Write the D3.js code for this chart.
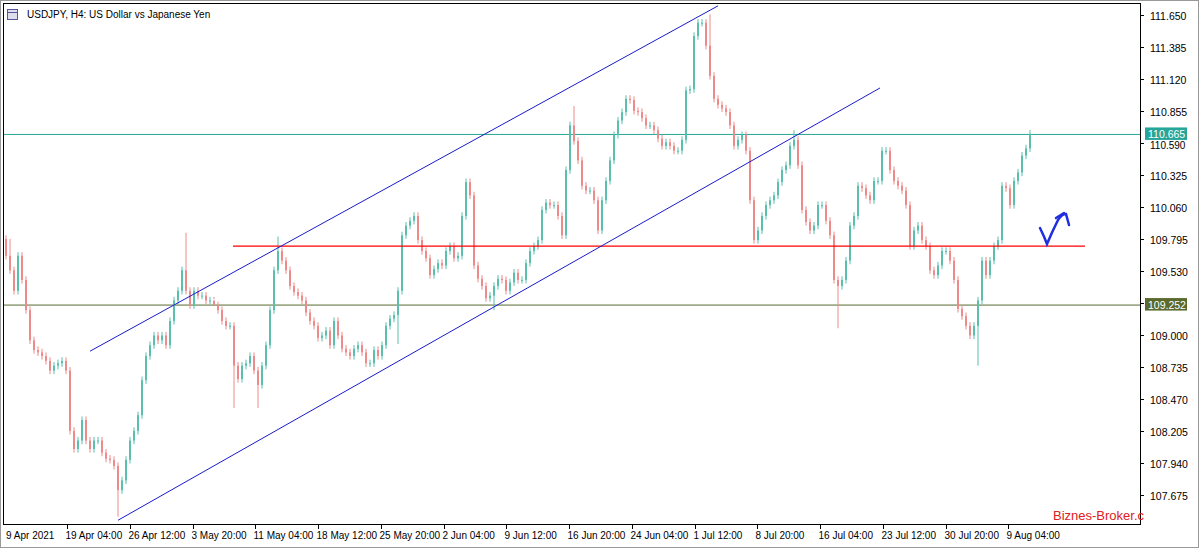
<!DOCTYPE html>
<html><head><meta charset="utf-8">
<script src="https://cdn.jsdelivr.net/npm/d3@7"></script>
<style>body{margin:0;background:#fff}svg{font-family:"Liberation Sans",Arial,sans-serif}</style>
</head><body><svg id="c" width="1200" height="548"></svg>
<script>
const closes=[109.66,109.54,109.37,109.66,109.46,109.21,108.96,108.88,108.86,108.83,108.79,108.71,108.75,108.77,108.79,108.71,108.21,108.06,108.13,108.30,108.13,108.06,108.13,108.13,108.03,107.98,107.97,107.92,107.72,107.80,107.97,108.13,108.21,108.34,108.63,108.83,108.92,109.00,108.96,109.00,108.92,109.12,109.29,109.37,109.54,109.37,109.25,109.37,109.33,109.33,109.29,109.29,109.25,109.21,109.12,109.08,109.08,108.75,108.64,108.75,108.77,108.83,108.71,108.59,108.75,108.92,109.21,109.54,109.70,109.62,109.54,109.41,109.36,109.33,109.29,109.19,109.12,109.08,108.98,109.00,109.04,108.92,109.12,109.00,108.89,108.86,108.83,108.89,108.92,108.86,108.77,108.77,108.88,108.83,108.92,109.08,109.14,109.17,109.37,109.83,109.91,109.95,109.99,109.79,109.70,109.64,109.50,109.55,109.60,109.58,109.70,109.74,109.64,109.66,109.99,110.27,110.16,109.58,109.47,109.41,109.31,109.33,109.41,109.47,109.46,109.37,109.44,109.52,109.46,109.46,109.60,109.70,109.74,109.79,110.04,110.10,110.08,110.08,109.99,109.83,110.37,110.74,110.61,110.45,110.24,110.20,110.20,110.12,109.87,110.12,110.28,110.45,110.66,110.78,110.85,110.96,110.95,110.86,110.85,110.80,110.74,110.74,110.70,110.63,110.57,110.60,110.57,110.53,110.53,110.62,111.03,111.04,111.48,111.59,111.59,111.40,111.15,110.96,110.91,110.88,110.85,110.74,110.57,110.62,110.66,110.53,110.12,109.79,109.87,109.99,110.08,110.12,110.16,110.27,110.37,110.41,110.57,110.62,110.41,110.04,109.94,109.87,109.91,110.08,110.08,109.95,109.83,109.46,109.41,109.46,109.62,109.91,109.99,110.24,110.22,110.16,110.12,110.28,110.28,110.53,110.53,110.37,110.28,110.24,110.20,110.08,109.74,109.87,109.91,109.79,109.74,109.54,109.50,109.58,109.70,109.70,109.62,109.46,109.22,109.16,109.08,109.00,109.08,109.29,109.62,109.50,109.62,109.74,109.79,110.24,110.22,110.08,110.28,110.35,110.49,110.55,110.67];
const firstOpen=109.80;
const spikeLows=[[28,107.50],[57,108.40],[63,108.40],[98,108.93],[122,109.21],[208,109.06],[243,108.75],[52,109.30]];
const spikeHighs=[[1,109.80],[45,109.85],[68,109.82],[142,110.90],[176,111.66],[197,110.70]];
const yTicks=["111.650","111.385","111.120","110.855","110.590","110.325","110.060","109.795","109.530","109.265","109.000","108.735","108.470","108.205","107.940","107.675"];
const xTickIdx=[15.25,30.94,46.63,62.31,78,93.69,109.38,125.06,140.75,156.44,172.13,187.81,203.5,219.19,234.88,250.56];
const xTickLabels=["19 Apr 04:00","26 Apr 12:00","3 May 20:00","11 May 04:00","18 May 12:00","25 May 20:00","2 Jun 04:00","9 Jun 12:00","16 Jun 20:00","24 Jun 04:00","1 Jul 12:00","8 Jul 20:00","16 Jul 04:00","23 Jul 12:00","30 Jul 20:00","9 Aug 04:00"];
const channelUpper=[[21,108.87],[178,111.73]];
const channelLower=[[28,107.47],[218.5,111.05]];
const supportRed={from:56.75,to:269.75,price:109.745};
const levelTeal=110.665, levelOlive=109.252;

const svg=d3.select("#c");
const x=d3.scaleLinear().domain([0,256]).range([6,1030]);
const y=d3.scaleLinear().domain([109,108.735]).range([335.5,367.5]);
const W=1140,B=524;
svg.append("rect").attr("x",0.5).attr("y",0.5).attr("width",1198).attr("height",547).attr("fill","#fff").attr("stroke","#999");
svg.append("clipPath").attr("id","cp").append("rect").attr("x",4).attr("y",4).attr("width",W-4).attr("height",B-4);
const g=svg.append("g").attr("clip-path","url(#cp)");
g.append("line").attr("x1",0).attr("x2",W).attr("y1",y(levelTeal)).attr("y2",y(levelTeal)).attr("stroke","#26a69a");
g.append("line").attr("x1",0).attr("x2",W).attr("y1",y(levelOlive)).attr("y2",y(levelOlive)).attr("stroke","#556b2f");
const lowMap=new Map(spikeLows), highMap=new Map(spikeHighs);
const data=closes.map((c,i)=>{const o=i?closes[i-1]:firstOpen;return {i,o,c};});
const cg=g.append("g");
data.forEach(d=>{
  const up=d.c>=d.o, col=up?"#5bbfae":"#ef8a8a";
  const hi=highMap.has(d.i)?highMap.get(d.i):Math.max(d.o,d.c)+0.03;
  const lo=lowMap.has(d.i)?lowMap.get(d.i):Math.min(d.o,d.c)-0.03;
  cg.append("line").attr("x1",x(d.i)).attr("x2",x(d.i)).attr("y1",y(hi)).attr("y2",y(lo)).attr("stroke",col).attr("stroke-width",1);
  cg.append("rect").attr("x",x(d.i)-1).attr("width",2).attr("y",y(Math.max(d.o,d.c))).attr("height",Math.max(1,Math.abs(y(d.o)-y(d.c)))).attr("fill",col);
});
g.append("line").attr("x1",x(supportRed.from)).attr("x2",x(supportRed.to)).attr("y1",y(supportRed.price)+0.5).attr("y2",y(supportRed.price)+0.5).attr("stroke","#ff0000").attr("stroke-width",1.2);
[channelUpper,channelLower].forEach(l=>{
  g.append("line").attr("x1",x(l[0][0])).attr("y1",y(l[0][1])).attr("x2",x(l[1][0])).attr("y2",y(l[1][1])).attr("stroke","#1a1acc").attr("stroke-width",1);
});
g.append("path").attr("d","M1040,228 Q1044,236 1047,244 Q1052,232 1058,220 Q1062,214 1066,214 L1069,225").attr("fill","none").attr("stroke","#1f2fe0").attr("stroke-width",2.5).attr("stroke-linecap","round");
g.append("path").attr("d","M1056,218 L1064,213").attr("fill","none").attr("stroke","#1f2fe0").attr("stroke-width",2.5).attr("stroke-linecap","round");
svg.append("line").attr("x1",W+0.5).attr("x2",W+0.5).attr("y1",3).attr("y2",B+1).attr("stroke","#000");
svg.append("line").attr("x1",3).attr("x2",W+0.5).attr("y1",B+0.5).attr("y2",B+0.5).attr("stroke","#000");
svg.append("line").attr("x1",3.5).attr("x2",3.5).attr("y1",3).attr("y2",B+1).attr("stroke","#000");
svg.append("line").attr("x1",3).attr("x2",W).attr("y1",3.5).attr("y2",3.5).attr("stroke","#000");
const yt=svg.append("g");
const labelPrices=[levelTeal,levelOlive];
yTicks.forEach(t=>{const yy=y(+t);
  yt.append("line").attr("x1",W).attr("x2",W+4).attr("y1",yy).attr("y2",yy).attr("stroke","#000");
  if(labelPrices.some(p=>Math.abs(y(p)-yy)<6)) return;
  const near=labelPrices.some(p=>Math.abs(y(p)-yy)<13);
  yt.append("text").attr("x",W+10).attr("y",yy+(near?5:4)).attr("font-size",near?10:10.5).attr("fill","#000").text(t);});
svg.append("text").attr("x",6).attr("y",B+15).attr("font-size",10).text("9 Apr 2021");
xTickIdx.forEach((t,i)=>{const xx=Math.round(x(t))+0.5;
  svg.append("line").attr("x1",xx).attr("x2",xx).attr("y1",B).attr("y2",B+5).attr("stroke","#000");
  svg.append("text").attr("x",xx-2).attr("y",B+15).attr("font-size",10).text(xTickLabels[i]);});
[[levelTeal,"#26a69a","110.665"],[levelOlive,"#5a6a2c","109.252"]].forEach(([p,c,t])=>{
  svg.append("rect").attr("x",W+5).attr("y",y(p)-7).attr("width",42).attr("height",12.5).attr("fill",c);
  svg.append("text").attr("x",W+8).attr("y",y(p)+3.5).attr("font-size",10.5).attr("fill","#fff").text(t);});
svg.append("rect").attr("x",7.5).attr("y",9.5).attr("width",10).attr("height",10).attr("fill","#dde").attr("stroke","#559");
svg.append("line").attr("x1",7).attr("x2",17).attr("y1",12.5).attr("y2",12.5).attr("stroke","#559");
svg.append("text").attr("x",27).attr("y",18).attr("font-size",10).text("USDJPY, H4:  US Dollar vs Japanese Yen");
svg.append("text").attr("x",1053).attr("y",520).attr("font-size",13).attr("fill","#e02020").text("Biznes-Broker.c");
</script></body></html>
